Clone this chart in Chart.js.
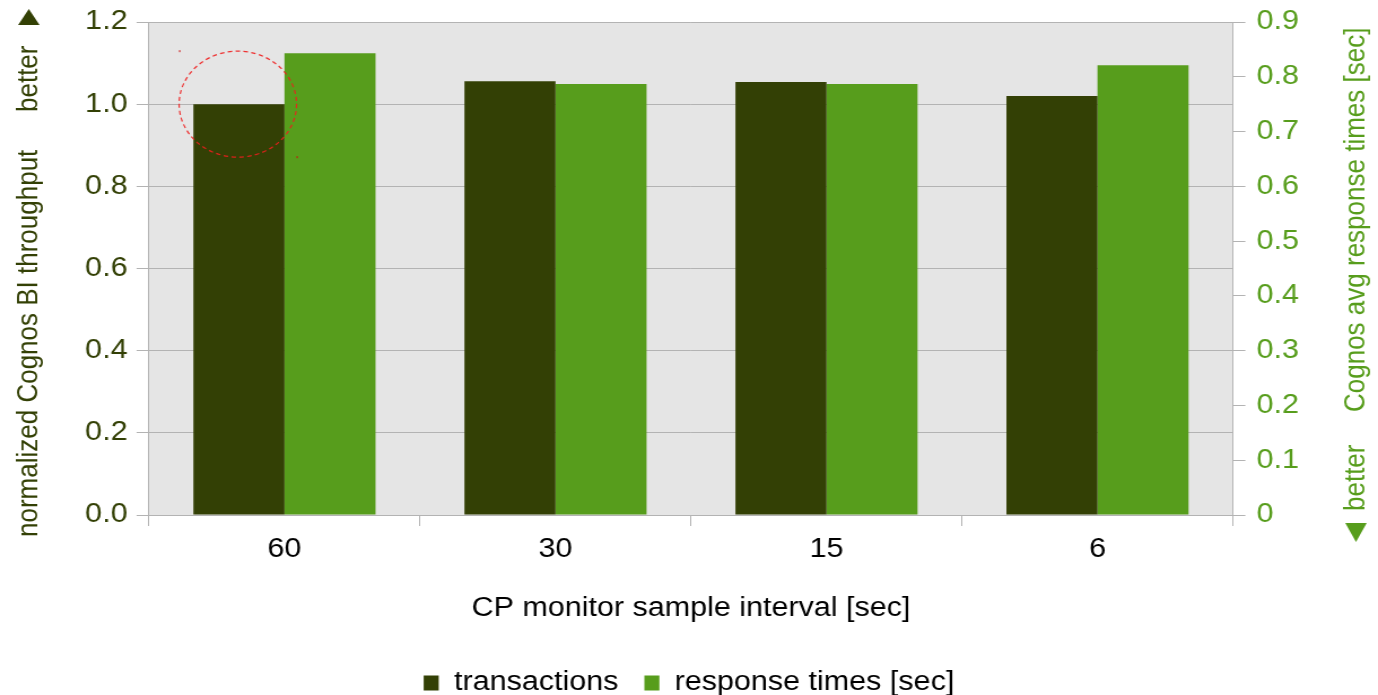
<!DOCTYPE html>
<html>
<head>
<meta charset="utf-8">
<title>CP monitor sample interval</title>
<script src="https://cdn.jsdelivr.net/npm/chart.js@4/dist/chart.umd.min.js"></script>
<style>
  html, body { margin: 0; padding: 0; background: #ffffff; overflow: hidden; }
  canvas { display: block; }
</style>
</head>
<body>
<!-- drawing surface is 1220 wide and shown at 1378, giving the wide lettering -->
<canvas id="chart" width="1220" height="695" style="width:1378px;height:695px"></canvas>
<script>
// ---- data ----
const categories = ['60', '30', '15', '6'];
const transactions = [1.0, 1.056, 1.054, 1.02];
const responseTimes = [0.843, 0.787, 0.787, 0.821];

const leftTicks = [0, 0.2, 0.4, 0.6, 0.8, 1.0, 1.2];
const leftTickLabels = ['0.0', '0.2', '0.4', '0.6', '0.8', '1.0', '1.2'];
const rightTicks = [0, 0.1, 0.2, 0.3, 0.4, 0.5, 0.6, 0.7, 0.8, 0.9];
const rightTickLabels = ['0', '0.1', '0.2', '0.3', '0.4', '0.5', '0.6', '0.7', '0.8', '0.9'];

const seriesNames = ['transactions', 'response times [sec]'];
const xTitle = 'CP monitor sample interval [sec]';
const leftTitle = 'normalized Cognos BI throughput';
const rightTitle = 'Cognos avg response times [sec]';
const betterLabel = 'better';

// ---- style ----
const DARK = '#334005';
const GREEN = '#579d1c';
const GRID = '#b3b3b3';
const PLOT_BG = '#e5e5e5';
const FONT = "'Liberation Sans', Arial, Helvetica, sans-serif";

Chart.defaults.font.family = FONT;
Chart.defaults.font.size = 27;
Chart.defaults.color = '#000000';

// grey plot area behind grid and bars
const plotBackground = {
  id: 'plotBackground',
  beforeDraw(chart) {
    const { ctx, chartArea: a } = chart;
    ctx.save();
    ctx.fillStyle = PLOT_BG;
    ctx.fillRect(a.left, a.top, a.right - a.left, a.bottom - a.top);
    ctx.restore();
  }
};

// dashed ring around the top of the first transactions bar
const ring = {
  id: 'ring',
  afterDatasetsDraw(chart) {
    const bar = chart.getDatasetMeta(0).data[0];
    if (!bar) return;
    const { ctx } = chart;
    const rx = 52, ry = 53;
    ctx.save();
    ctx.strokeStyle = 'rgba(240, 30, 30, 0.9)';
    ctx.lineWidth = 1.2;
    ctx.setLineDash([4, 3]);
    ctx.beginPath();
    ctx.ellipse(bar.x - 1, bar.y, rx, ry, 0, 0, Math.PI * 2);
    ctx.stroke();
    ctx.setLineDash([]);
    ctx.fillStyle = '#cc1010';
    ctx.fillRect(bar.x - 1 - rx, bar.y - ry - 1, 1, 2);
    ctx.fillRect(bar.x - 1 + rx, bar.y + ry - 1, 1, 2);
    ctx.restore();
  }
};

// rotated axis titles with their "better" arrows
function verticalText(ctx, text, x, y, color) {
  ctx.save();
  ctx.translate(x, y);
  ctx.rotate(-Math.PI / 2);
  ctx.font = '26px ' + FONT;
  ctx.fillStyle = color;
  ctx.textAlign = 'left';
  ctx.textBaseline = 'alphabetic';
  ctx.fillText(text, 0, 0);
  ctx.restore();
}
function triangle(ctx, pts, color) {
  ctx.save();
  ctx.fillStyle = color;
  ctx.beginPath();
  ctx.moveTo(pts[0][0], pts[0][1]);
  ctx.lineTo(pts[1][0], pts[1][1]);
  ctx.lineTo(pts[2][0], pts[2][1]);
  ctx.closePath();
  ctx.fill();
  ctx.restore();
}
const axisTitles = {
  id: 'axisTitles',
  afterDraw(chart) {
    const { ctx } = chart;
    // left axis
    verticalText(ctx, leftTitle, 33, 537, DARK);
    verticalText(ctx, betterLabel, 33, 112, DARK);
    triangle(ctx, [[16, 25], [35, 25], [25.5, 9]], DARK);
    // right axis
    verticalText(ctx, rightTitle, 1208, 412, GREEN);
    verticalText(ctx, betterLabel, 1208, 511, GREEN);
    triangle(ctx, [[1191, 523], [1210, 523], [1200.5, 542]], GREEN);
  }
};

function fixWidth(w) {
  return (scale) => {
    scale.width = w;
    scale.paddingTop = 0;
    scale.paddingBottom = 0;
  };
}

new Chart(document.getElementById('chart'), {
  type: 'bar',
  data: {
    labels: categories,
    datasets: [
      {
        label: seriesNames[0],
        data: transactions,
        backgroundColor: DARK,
        borderWidth: 0,
        yAxisID: 'y',
        categoryPercentage: 0.672,
        barPercentage: 1.0
      },
      {
        label: seriesNames[1],
        data: responseTimes,
        backgroundColor: GREEN,
        borderWidth: 0,
        yAxisID: 'y1',
        categoryPercentage: 0.672,
        barPercentage: 1.0
      }
    ]
  },
  options: {
    responsive: false,
    maintainAspectRatio: false,
    devicePixelRatio: 1,
    animation: false,
    events: [],
    layout: { padding: { left: 0, right: 0, top: 22, bottom: -11.5 } },
    scales: {
      x: {
        type: 'category',
        offset: true,
        grid: {
          offset: true,
          drawOnChartArea: false,
          drawTicks: true,
          tickLength: 11,
          color: GRID,
          lineWidth: 1
        },
        border: { display: true, color: GRID, width: 1 },
        ticks: { color: '#000000', font: { size: 27 }, padding: 7, maxRotation: 0 },
        title: {
          display: true,
          text: xTitle,
          color: '#000000',
          font: { size: 27 },
          padding: { top: 0, bottom: 22 }
        },
        afterFit(scale) {
          scale.height = 131.5;
          scale.paddingLeft = 0;
          scale.paddingRight = 0;
        }
      },
      y: {
        position: 'left',
        min: 0,
        max: 1.2,
        afterBuildTicks(scale) { scale.ticks = leftTicks.map(v => ({ value: v })); },
        ticks: {
          color: DARK,
          font: { size: 27 },
          padding: 8,
          callback: (v, i) => leftTickLabels[i]
        },
        grid: { color: GRID, lineWidth: 1, drawTicks: true, tickLength: 11 },
        border: { display: true, color: GRID, width: 1 },
        afterFit: fixWidth(131.9)
      },
      y1: {
        position: 'right',
        min: 0,
        max: 0.9,
        afterBuildTicks(scale) { scale.ticks = rightTicks.map(v => ({ value: v })); },
        ticks: {
          color: GREEN,
          font: { size: 27 },
          padding: 10,
          callback: (v, i) => rightTickLabels[i]
        },
        grid: { drawOnChartArea: false, color: GRID, lineWidth: 1, drawTicks: true, tickLength: 11 },
        border: { display: true, color: GRID, width: 1 },
        afterFit: fixWidth(128.4)
      }
    },
    plugins: {
      legend: {
        display: true,
        position: 'bottom',
        align: 'center',
        labels: {
          color: '#000000',
          font: { size: 27 },
          boxWidth: 13.3,
          boxHeight: 15,
          padding: 23
        }
      },
      tooltip: { enabled: false },
      title: { display: false }
    }
  },
  plugins: [plotBackground, ring, axisTitles]
});
</script>
</body>
</html>
